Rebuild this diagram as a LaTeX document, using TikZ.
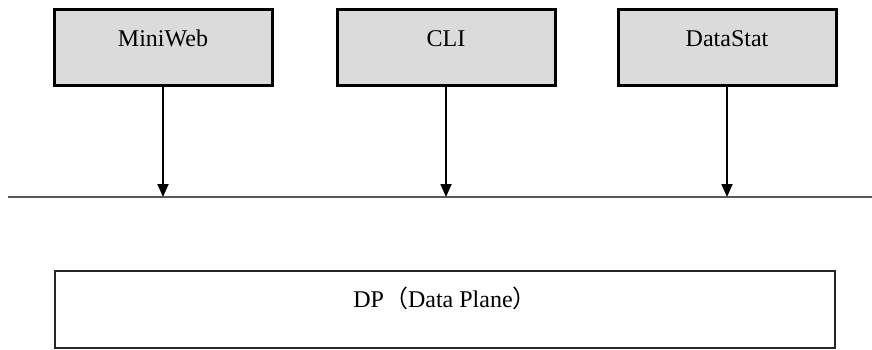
\documentclass[tikz,border=0pt]{standalone}
\usepackage{fontspec}
\setmainfont{Liberation Serif}
\newfontfamily\cjk{Noto Sans CJK SC}
\newcommand{\upshifted}[2]{\raisebox{#1}[0.7em][0.2em]{#2}}
\usetikzlibrary{arrows.meta}
\begin{document}
\begin{tikzpicture}[x=1pt,y=-1pt,
  modbox/.style={draw=black,line width=3pt,fill=gray!28,minimum width=218pt,minimum height=76pt,inner sep=0pt,font=\fontsize{24}{28}\selectfont},
  dpbox/.style={draw=black!85,line width=1.8pt,minimum width=780pt,minimum height=77pt,inner sep=0pt,font=\fontsize{24}{28}\selectfont},
  conn/.style={line width=1.8pt,-{Triangle[length=13pt,width=11pt]}}]
\useasboundingbox (0,0) rectangle (872,350);
\node[modbox] (mw) at (163,47.5) {\upshifted{7pt}{MiniWeb}};
\node[modbox] (cli) at (446,47.5) {\upshifted{7pt}{CLI}};
\node[modbox] (ds) at (727,47.5) {\upshifted{7pt}{DataStat}};
\coordinate (l) at (8,197);
\coordinate (r) at (872,197);
\draw[line width=1.8pt,black!65] (l) -- (r);
\coordinate (a1) at (mw.south |- l);
\coordinate (a2) at (cli.south |- l);
\coordinate (a3) at (ds.south |- l);
\draw[conn] (mw.south) -- (a1);
\draw[conn] (cli.south) -- (a2);
\draw[conn] (ds.south) -- (a3);
\node[dpbox] (dp) at (445,309.5) {\upshifted{8pt}{DP{\cjk（}Data Plane{\cjk）}}};
\end{tikzpicture}
\end{document}
